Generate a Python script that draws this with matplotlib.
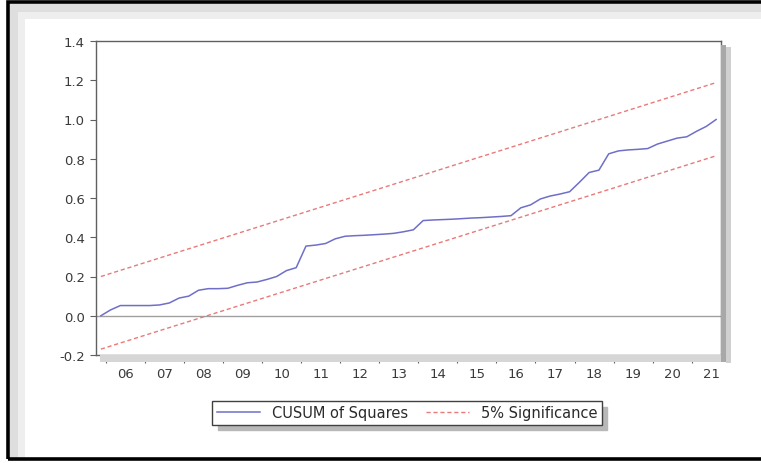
import numpy as np
import matplotlib
matplotlib.use('Agg')
from matplotlib import pyplot as plt
from matplotlib.patches import Rectangle
from matplotlib.ticker import FixedLocator, FuncFormatter

plt.rcParams['font.family'] = ['DejaVu Sans']

# quarterly observations 2005Q4 .. 2021Q3
cusum_sq = [0.000, 0.030, 0.052, 0.052, 0.052, 0.052, 0.055, 0.065, 0.090, 0.100,
            0.130, 0.138, 0.138, 0.140, 0.155, 0.168, 0.172, 0.185, 0.200, 0.230,
            0.245, 0.355, 0.360, 0.368, 0.392, 0.405, 0.408, 0.410, 0.413, 0.416,
            0.420, 0.428, 0.438, 0.485, 0.488, 0.490, 0.492, 0.495, 0.498, 0.500,
            0.503, 0.506, 0.510, 0.550, 0.565, 0.595, 0.610, 0.620, 0.632, 0.680,
            0.730, 0.742, 0.825, 0.840, 0.845, 0.848, 0.852, 0.875, 0.890, 0.905,
            0.912, 0.940, 0.965, 1.000]
upper_band = [0.200, 1.188]   # first and last observation
lower_band = [-0.170, 0.815]
years = ['06', '07', '08', '09', '10', '11', '12', '13', '14', '15',
         '16', '17', '18', '19', '20', '21']
yticks = [-0.2, 0.0, 0.2, 0.4, 0.6, 0.8, 1.0, 1.2, 1.4]

n = len(cusum_sq)
x = np.arange(n)

fig = plt.figure(figsize=(7.61, 4.64), dpi=100)
W, H = 761, 464

def fx(px):
    return px / W

def fy(py):
    return 1 - py / H

def box(x0, y0, x1, y1, **kw):
    # rectangle given in pixel coords (top-left origin)
    fig.patches.append(Rectangle((fx(x0), fy(y1)), fx(x1) - fx(x0), fy(y0) - fy(y1),
                                 transform=fig.transFigure, **kw))

# window frame, grey bands and plot shadow
box(10, 5, 770, 13, facecolor='#dedede', edgecolor='none', zorder=0)
box(10, 13, 770, 20, facecolor='#eeeeee', edgecolor='none', zorder=0)
box(10, 5, 18, 459, facecolor='#dedede', edgecolor='none', zorder=0)
box(18, 13, 25, 459, facecolor='#eeeeee', edgecolor='none', zorder=0)
box(721, 46, 726, 363, facecolor='#a8a8a8', edgecolor='none', zorder=0)
box(726, 48, 731, 364, facecolor='#d0d0d0', edgecolor='none', zorder=0)
box(100, 356, 721, 363, facecolor='#d6d6d6', edgecolor='none', zorder=0)
box(8, 3, 775, 460, facecolor='none', edgecolor='black', linewidth=2.6, zorder=5)

ax = fig.add_axes([fx(96), fy(356), fx(625), fy(42) - fy(356)])
ax.plot(x, cusum_sq, color='#6f6fc8', linewidth=1.1, label='CUSUM of Squares')
ax.plot([x[0], x[-1]], upper_band, color='#e87a7a', linewidth=1.0, dashes=(3, 2),
        label='5% Significance')
ax.plot([x[0], x[-1]], lower_band, color='#e87a7a', linewidth=1.0, dashes=(3, 2))
ax.axhline(0, color='#a0a0a0', linewidth=1.0, zorder=1)

ax.set_xlim(-0.5, n - 0.5)
ax.set_ylim(-0.2, 1.4)
ax.set_yticks(yticks)
ax.yaxis.set_major_formatter(FuncFormatter(lambda v, p: f'{v:.1f}'))

# year boundaries as major ticks, quarter boundaries as minor ticks (labels in mid-year)
ax.xaxis.set_major_locator(FixedLocator(np.arange(0.5, n, 4)))
ax.xaxis.set_major_formatter(FuncFormatter(lambda v, p: ''))
ax.xaxis.set_minor_locator(FixedLocator(np.arange(0.5, n + 2, 1)))

def year_label(v, p):
    k = (v - 2.5) / 4
    if abs(k - round(k)) < 1e-6 and 0 <= round(k) < len(years):
        return years[int(round(k))]
    return ''

ax.xaxis.set_minor_formatter(FuncFormatter(year_label))

for s in ax.spines.values():
    s.set_color('#606060')
    s.set_linewidth(1.0)
ax.tick_params(axis='y', direction='out', length=4, width=0.8, color='#606060',
               labelsize=9.5, labelcolor='#3a3a3a', pad=4)
ax.tick_params(axis='x', which='major', direction='out', length=6, width=0.8,
               color='#606060', labelsize=9.5)
ax.tick_params(axis='x', which='minor', direction='out', length=3, width=0.7,
               color='#606060', labelsize=9.5, labelcolor='#3a3a3a', pad=6)

leg = fig.legend(loc='center', bbox_to_anchor=(fx(407), fy(414)), ncol=2, fontsize=10.5,
                 frameon=True, fancybox=False, handlelength=3.0, handletextpad=0.8,
                 columnspacing=1.2, borderpad=0.3,
                 shadow={'ox': 4, 'oy': -4, 'color': '#b8b8b8', 'alpha': 1})
leg.get_frame().set_edgecolor('#404040')
leg.get_frame().set_linewidth(1.0)
for t in leg.get_texts():
    t.set_color('#2a2a2a')

fig.savefig('out.png', dpi=100)
